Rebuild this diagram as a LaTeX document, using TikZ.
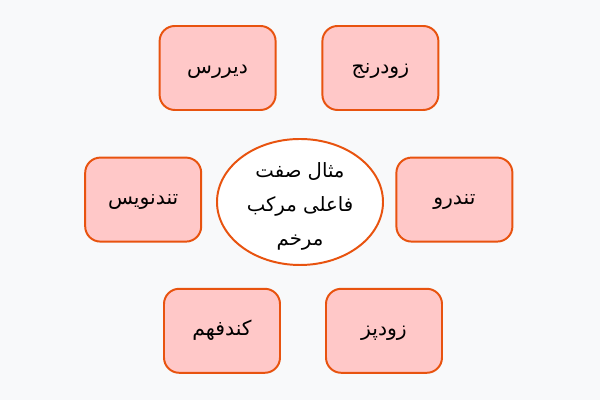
\documentclass[tikz,border=0pt]{standalone}
\usepackage{fontspec}
\usetikzlibrary{shapes.geometric}
\newfontfamily\farsifont[Script=Arabic]{DejaVu Sans}
\TeXXeTstate=1
\definecolor{bgcol}{HTML}{F8F9FA}
\definecolor{edgecol}{HTML}{E8530F}
\definecolor{boxcol}{HTML}{FFC8C8}
\begin{document}
\begin{tikzpicture}[
  wordbox/.style={draw=edgecol,line width=1.4pt,fill=boxcol,rounded corners=0.38cm,
    minimum width=2.9cm,minimum height=2.1cm,text height=2.1ex,text depth=0.4ex,
    font=\farsifont\fontsize{14.5}{17}\selectfont},
  mainoval/.style={draw=edgecol,line width=1.4pt,fill=white,ellipse,
    minimum width=4.15cm,minimum height=3.15cm,inner xsep=0pt,inner ysep=-12pt,align=center,
    font=\farsifont\fontsize{14}{24}\selectfont}]
  \fill[bgcol] (0,0) rectangle (15,10);
  \useasboundingbox (0,0) rectangle (15,10);

  \node[mainoval] (center) at (7.5,4.95) {\rule{0pt}{17pt}\beginR مثال صفت\endR\\\beginR فاعلی مرکب\endR\\\beginR مرخم\endR};
%
  \node[wordbox] (dirras)   at (5.44,8.3)  {\beginR دیررس\endR};
  \node[wordbox] (zudranj)  at (9.51,8.3)  {\beginR زودرنج\endR};
  \node[wordbox] (tandnevis) at (3.58,5.01) {\beginR تندنویس\endR};
  \node[wordbox] (tandrow)  at (11.36,5.01) {\beginR تندرو\endR};
  \node[wordbox] (kondfahm) at (5.55,1.73) {\beginR کندفهم\endR};
  \node[wordbox] (zudpaz)   at (9.6,1.73)  {\beginR زودپز\endR};
\end{tikzpicture}
\end{document}
